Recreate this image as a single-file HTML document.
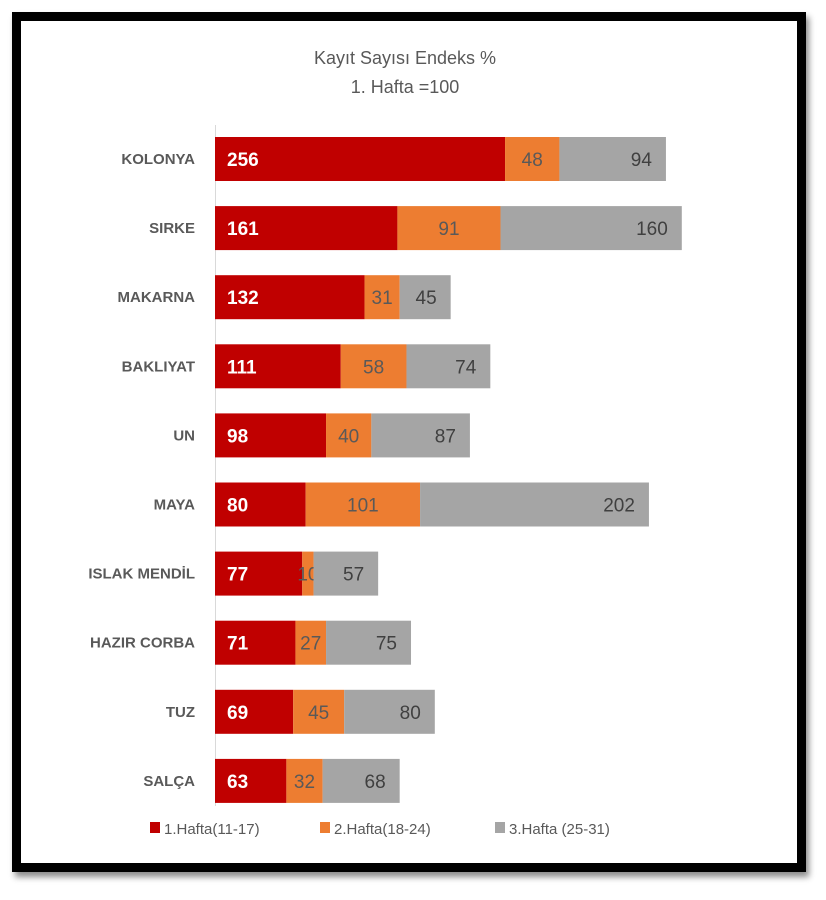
<!DOCTYPE html>
<html><head><meta charset="utf-8"><style>
html,body{margin:0;padding:0;background:#fff;}
body{width:826px;height:900px;position:relative;overflow:hidden;font-family:"Liberation Sans Narrow","Liberation Sans",sans-serif;}
#frame{position:absolute;left:12px;top:12px;width:776px;height:842px;border:9px solid #000;background:#fff;box-shadow:3px 5px 6px rgba(0,0,0,0.45);}
svg{position:absolute;left:0;top:0;}
</style></head><body>
<div id="frame"></div>
<svg id="chart" width="826" height="900">
<text x="405" y="64" text-anchor="middle" font-size="18" fill="#595959">Kayıt Sayısı Endeks %</text>
<text x="405" y="93" text-anchor="middle" font-size="18" fill="#595959">1. Hafta =100</text>
<line x1="215.5" y1="125" x2="215.5" y2="806" stroke="#d9d9d9" stroke-width="1"/>
<g id="bars"></g>
<g>
<rect x="150" y="822" width="10" height="11" fill="#c00000"/>
<text x="164" y="834" font-size="15" fill="#595959">1.Hafta(11-17)</text>
<rect x="320" y="822" width="10" height="11" fill="#ed7d31"/>
<text x="334" y="834" font-size="15" fill="#595959">2.Hafta(18-24)</text>
<rect x="495" y="822" width="10" height="11" fill="#a5a5a5"/>
<text x="509" y="834" font-size="15" fill="#595959">3.Hafta (25-31)</text>
</g>
</svg>
<script>
const categories=["KOLONYA","SIRKE","MAKARNA","BAKLIYAT","UN","MAYA","ISLAK MENDİL","HAZIR CORBA","TUZ","SALÇA"];
const week1=[256,161,132,111,98,80,77,71,69,63];
const week2=[48,91,31,58,40,101,10,27,45,32];
const week3=[94,160,45,74,87,202,57,75,80,68];
const seriesNames=["week1","week2","week3"];
const colors=["#c00000","#ed7d31","#a5a5a5"];
const x0=215, scale=1.133, yTop=159, step=69.1, bh=44;
const xs=v=>x0+v*scale;
const yc=i=>yTop+i*step;
const NS="http://www.w3.org/2000/svg";
const g=document.getElementById('bars');
function mk(tag,attrs){const e=document.createElementNS(NS,tag);for(const k in attrs)e.setAttribute(k,attrs[k]);return e;}
categories.forEach((c,i)=>{
  const lab=mk('text',{x:195,y:yc(i)+5,'text-anchor':'end','font-size':15,'font-weight':'bold',fill:'#595959'});
  
  
  lab.textContent=c;g.appendChild(lab);
  const vals=[week1[i],week2[i],week3[i]];
  let acc=0;
  vals.forEach((v,s)=>{
    const xa=xs(acc), xb=xs(acc+v);
    const r=mk('rect',{x:xa,y:yc(i)-bh/2,width:xb-xa,height:bh,fill:colors[s]});
    
    
    g.appendChild(r);
    let tx,anchor,fill,fw;
    if(s===0){tx=xa+12;anchor='start';fill='#fff';fw='bold';}
    else if(s===1){tx=(xa+xb)/2;anchor='middle';fill='#595959';fw='normal';}
    else{tx=xb-14;anchor='end';fill='#404040';fw='normal';}
    const t=mk('text',{x:tx,y:yc(i)+7,'text-anchor':anchor,'font-size':19,'font-weight':fw,fill:fill});
    
    
    t.textContent=v;g.appendChild(t);
    acc+=v;
  });
});
</script>
</body></html>
